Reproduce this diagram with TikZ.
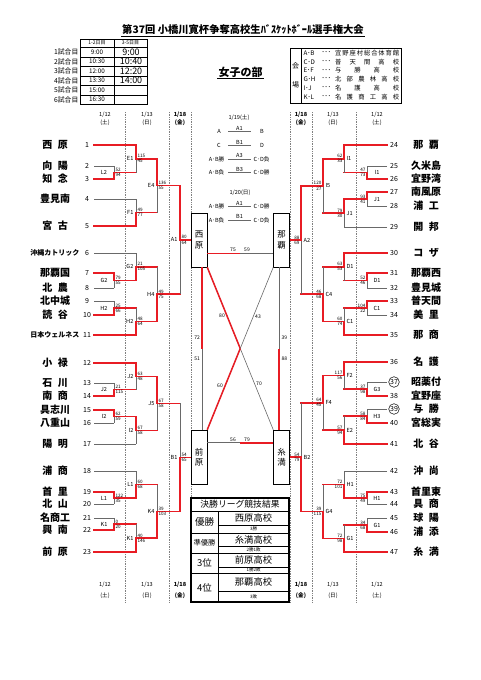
\documentclass[tikz,border=0pt]{standalone}
\usepackage{fontspec}
\setmainfont{Noto Sans CJK JP}
\usetikzlibrary{calc}
\definecolor{rd}{RGB}{232,28,36}
\definecolor{gr}{RGB}{105,105,105}
\newcommand\tg{\hspace{5.5pt}}
\newcommand\smallname{\fontsize{7}{8}\selectfont}
% bracket match: #1 name, #2 x of vertical, #3 y top, #4 y bottom, #5 winner (1 top / 2 bottom), #6 x out, #7 label, #8 score top, #9 score bottom
\newcommand\BMatch[9]{%
  \pgfmathsetmacro\bmm{(#3+#4)/2}%
  \ifnum#5=1\relax
    \draw[gl] (#2,\bmm) -- (#2,#4);
    \draw[rl] (#2,#3) -- (#2,\bmm) -- (#6,\bmm);
  \else
    \draw[gl] (#2,#3) -- (#2,\bmm);
    \draw[rl] (#2,#4) -- (#2,\bmm) -- (#6,\bmm);
  \fi
  \coordinate (#1) at (#2,\bmm);
  \pgfmathsetmacro\lxx{#2+\ldx}%
  \pgfmathsetmacro\sxx{#2+\sdx}%
  \node[lb,anchor=\lanc] at (\lxx,\bmm) {#7};
  \node[sc,anchor=\sanT] at (\sxx,\bmm-0.5) {#8};
  \node[sc,anchor=\sanB] at (\sxx,\bmm+0.5) {#9};
}
\newcommand\LTeam[5]{%
  \node[tname] (nL#1) at (55,#2) {#3};
  \node[tnum] (kL#1) at (87,#2) {#1};
  \coordinate (aL#1) at (94,#2);
  \draw[#5] (aL#1) -- (#4,#2);
}
\newcommand\RTeam[5]{%
  \node[tname] (nR#1) at (426,#2) {#3};
  \node[tnum] (kR#1) at (394,#2) {#1};
  \coordinate (aR#1) at (387,#2);
  \draw[#5] (aR#1) -- (#4,#2);
}
\newcommand\SRow[4]{%
  \node[ct,anchor=east] at (225,#1) {#2};
  \draw[gl,line width=0.5pt] (228,#1) -- (251,#1);
  \node[ct,anchor=south,inner sep=0.4pt] at (239.5,#1-0.6) {#3};
  \node[ct,anchor=west] at (253,#1) {#4};
}
\newcommand\VRow[3]{%
  \node[vt,anchor=west] at (303,#1) {#2};
  \node[vt,anchor=west] at (321,#1) {･･･};
  \node[vt,anchor=west,inner sep=0pt] at (335,#1) {\hbox to 64pt{#3}};
}
\begin{document}
\begin{tikzpicture}[x=1pt,y=-1pt,
  rl/.style={draw=rd,line width=1.5pt,line cap=rect},
  gl/.style={draw=gr,line width=0.6pt},
  dl/.style={draw=gray,line width=0.6pt,dash pattern=on 0.8pt off 0.9pt},
  tbl/.style={draw=black,line width=0.5pt},
  sc/.style={font=\fontsize{4.6}{5}\selectfont,inner sep=0.2pt},
  lb/.style={font=\fontsize{5.6}{6}\selectfont,inner sep=0.4pt},
  ct/.style={font=\fontsize{5.6}{6}\selectfont,inner sep=0.5pt},
  dt/.style={font=\fontsize{5.6}{6}\selectfont,inner sep=0.5pt},
  tname/.style={font=\fontsize{10}{12}\selectfont\bfseries,inner sep=0pt},
  tnum/.style={font=\fontsize{7}{8}\selectfont,inner sep=0pt},
  vt/.style={font=\fontsize{6.3}{7}\selectfont,inner sep=0.3pt},
  cbox/.style={draw=black,line width=0.5pt,fill=white,minimum width=16pt,minimum height=54pt,inner sep=0pt,align=center,font=\fontsize{8.5}{10.5}\selectfont},
  cs/.style={font=\fontsize{5}{5.5}\selectfont,inner sep=0.3pt}
]
\useasboundingbox (0,0) rectangle (481,680);
\fill[white] (0,0) rectangle (481,680);

% ---------- title ----------
\node[font=\fontsize{10.3}{12}\selectfont\bfseries,inner sep=1pt] (ttl) at (243,30) {第37回 小橋川寛杯争奪高校生ﾊﾞｽｹｯﾄﾎﾞｰﾙ選手権大会};
\draw[line width=0.6pt] (ttl.south west) -- (ttl.south east);
\node[font=\fontsize{11}{12}\selectfont\bfseries,inner sep=1pt] (sub) at (240.5,72) {女子の部};
\draw[line width=0.6pt] (sub.south west) -- (sub.south east);

% ---------- time table ----------
\draw[tbl] (80,39) rectangle (147,104.5);
\foreach \yy in {47,57,66.5,76,85.5,95} \draw[tbl] (80,\yy) -- (147,\yy);
\draw[tbl] (114,39) -- (114,104.5);
\node[font=\fontsize{5}{6}\selectfont] at (97,43) {1-2日目};
\node[font=\fontsize{5}{6}\selectfont] at (130.5,43) {3-5日目};
\foreach \i/\yy/\ta in {1/52/9:00,2/61.75/10:30,3/71.25/12:00,4/80.75/13:30,5/90.25/15:00,6/99.75/16:30}{
  \node[font=\fontsize{6.8}{7}\selectfont,anchor=east,inner sep=0.5pt] at (79,\yy) {\i 試合目};
  \node[font=\fontsize{6.3}{7}\selectfont] at (97,\yy) {\ta};
}
\foreach \yy/\tb in {52/9:00,61.75/10:40,71.25/12:20,80.75/14:00}
  \node[font=\fontsize{9}{10}\selectfont] at (131,\yy) {\tb};

% ---------- venue box ----------
\draw[tbl] (290,48) rectangle (401,103);
\draw[tbl] (301,48) -- (301,103);
\node[font=\fontsize{7}{8}\selectfont] at (295.5,66) {会};
\node[font=\fontsize{7}{8}\selectfont] at (295.5,85) {場};
\VRow{53}{A･B}{宜\hfill 野\hfill 座\hfill 村\hfill 総\hfill 合\hfill 体\hfill 育\hfill 館}
\VRow{61.8}{C･D}{普\hfill 天\hfill 間\hfill 高\hfill 校}
\VRow{70.6}{E･F}{与\hfill 勝\hfill 高\hfill 校}
\VRow{79.4}{G･H}{北\hfill 部\hfill 農\hfill 林\hfill 高\hfill 校}
\VRow{88.2}{I･J}{名\hfill 護\hfill 高\hfill 校}
\VRow{97}{K･L}{名\hfill 護\hfill 商\hfill 工\hfill 高\hfill 校}

% ---------- dotted column lines ----------
\foreach \xx in {125,169,191,290,312,356} \draw[dl] (\xx,112) -- (\xx,602);

% ---------- dates ----------
\foreach \xx/\dd/\ww in {105/1\slash 12/(土),147/1\slash 13/(日),333/1\slash 13/(日),377/1\slash 12/(土)}{
  \node[dt] at (\xx,115) {\dd}; \node[dt] at (\xx,122.5) {\ww};
  \node[dt] at (\xx,585) {\dd}; \node[dt] at (\xx,596) {\ww};
}
\foreach \xx in {180,301}{
  \node[dt,font=\fontsize{5.6}{6}\selectfont\bfseries] at (\xx,115) {1/18};
  \node[dt,font=\fontsize{5.6}{6}\selectfont\bfseries] at (\xx,122.5) {(金)};
  \node[dt,font=\fontsize{5.6}{6}\selectfont\bfseries] at (\xx,585) {1/18};
  \node[dt,font=\fontsize{5.6}{6}\selectfont\bfseries] at (\xx,596) {(金)};
}

% ---------- left teams ----------
\LTeam{1}{145}{西\tg 原}{136}{rl}
\LTeam{2}{166}{向\tg 陽}{114}{gl}
\LTeam{3}{179}{知\tg 念}{114}{rl}
\LTeam{4}{199}{豊見南}{136}{gl}
\LTeam{5}{226}{宮\tg 古}{136}{rl}
\LTeam{6}{253}{\smallname 沖縄カトリック}{136}{gl}
\LTeam{7}{273}{那覇国}{114}{rl}
\LTeam{8}{288}{北\tg 農}{114}{gl}
\LTeam{9}{301}{北中城}{114}{gl}
\LTeam{10}{315}{読\tg 谷}{114}{rl}
\LTeam{11}{335}{\smallname 日本ウェルネス}{136}{rl}
\LTeam{12}{363}{小\tg 禄}{136}{rl}
\LTeam{13}{383}{石\tg 川}{114}{gl}
\LTeam{14}{396}{南\tg 商}{114}{rl}
\LTeam{15}{410}{具志川}{114}{rl}
\LTeam{16}{423}{八重山}{114}{gl}
\LTeam{17}{444}{陽\tg 明}{136}{gl}
\LTeam{18}{471}{浦\tg 商}{136}{gl}
\LTeam{19}{492}{首\tg 里}{114}{rl}
\LTeam{20}{504}{北\tg 山}{114}{gl}
\LTeam{21}{518}{名商工}{114}{gl}
\LTeam{22}{530}{興\tg 南}{114}{rl}
\LTeam{23}{552}{前\tg 原}{136}{rl}

% ---------- right teams ----------
\RTeam{24}{145}{那\tg 覇}{344}{rl}
\RTeam{25}{166}{久米島}{367}{gl}
\RTeam{26}{179}{宜野湾}{367}{rl}
\RTeam{27}{192}{南風原}{367}{rl}
\RTeam{28}{206}{浦\tg 工}{367}{gl}
\RTeam{29}{227}{開\tg 邦}{344}{gl}
\RTeam{30}{253}{コ\tg ザ}{344}{rl}
\RTeam{31}{273}{那覇西}{367}{rl}
\RTeam{32}{288}{豊見城}{367}{gl}
\RTeam{33}{301}{普天間}{367}{rl}
\RTeam{34}{315}{美\tg 里}{367}{gl}
\RTeam{35}{335}{那\tg 商}{344}{rl}
\RTeam{36}{362}{名\tg 護}{344}{rl}
\RTeam{37}{382}{昭薬付}{367}{gl}
\RTeam{38}{396}{宜野座}{367}{rl}
\RTeam{39}{409}{与\tg 勝}{367}{gl}
\RTeam{40}{423}{宮総実}{367}{rl}
\RTeam{41}{444}{北\tg 谷}{344}{rl}
\RTeam{42}{471}{沖\tg 尚}{344}{gl}
\RTeam{43}{492}{首里東}{367}{rl}
\RTeam{44}{504}{具\tg 商}{367}{gl}
\RTeam{45}{518}{球\tg 陽}{367}{gl}
\RTeam{46}{532}{浦\tg 添}{367}{rl}
\RTeam{47}{552}{糸\tg 満}{344}{rl}
\draw[line width=0.5pt] (kR37) circle (5.3pt);
\draw[line width=0.5pt] (kR39) circle (5.3pt);

% ---------- left bracket ----------
\def\sdx{1.2}\def\sanT{south west}\def\sanB{north west}
\def\ldx{-10}\def\lanc{center}
\BMatch{L-L2}{114}{166}{179}{2}{136}{L2}{52}{94}
\BMatch{L-G2a}{114}{273}{288}{1}{136}{G2}{79}{55}
\BMatch{L-H2a}{114}{301}{315}{2}{136}{H2}{25}{66}
\BMatch{L-J2a}{114}{383}{396}{2}{136}{J2}{21}{115}
\BMatch{L-I2a}{114}{410}{423}{1}{136}{I2}{62}{59}
\BMatch{L-L1a}{114}{492}{504}{1}{136}{L1}{122}{35}
\BMatch{L-K1a}{114}{518}{530}{2}{136}{K1}{0}{20}
\def\ldx{-2}\def\lanc{east}
\BMatch{L-E1}{136}{145}{172.5}{1}{157}{E1}{115}{45}
\BMatch{L-F1}{136}{199}{226}{2}{157}{F1}{49}{77}
\BMatch{L-G2b}{136}{253}{280.5}{2}{157}{G2}{21}{105}
\BMatch{L-H2b}{136}{308}{335}{2}{157}{H2}{48}{64}
\BMatch{L-J2b}{136}{363}{389.5}{1}{157}{J2}{63}{48}
\BMatch{L-I2b}{136}{416.5}{444}{1}{157}{I2}{67}{58}
\BMatch{L-L1b}{136}{471}{498}{2}{157}{L1}{60}{68}
\BMatch{L-K1b}{136}{524}{552}{2}{157}{K1}{40}{146}
\BMatch{L-E4}{157}{158.75}{212.5}{1}{180}{E4}{136}{55}
\BMatch{L-H4}{157}{266.75}{321.5}{2}{180}{H4}{49}{75}
\BMatch{L-J5}{157}{376.25}{430.25}{1}{180}{J5}{67}{58}
\BMatch{L-K4}{157}{484.5}{538}{2}{180}{K4}{39}{103}
\BMatch{L-A1}{180}{185.625}{294.125}{1}{191}{A1}{80}{64}
\BMatch{L-B1}{180}{403.25}{511.25}{2}{191}{B1}{54}{65}

% ---------- right bracket ----------
\def\sdx{-1.2}\def\sanT{south east}\def\sanB{north east}
\def\ldx{10}\def\lanc{center}
\BMatch{R-I1a}{367}{166}{179}{2}{344}{I1}{47}{73}
\BMatch{R-J1a}{367}{192}{206}{1}{344}{J1}{93}{41}
\BMatch{R-D1a}{367}{273}{288}{1}{344}{D1}{52}{46}
\BMatch{R-C1a}{367}{301}{315}{1}{344}{C1}{104}{22}
\BMatch{R-G3}{367}{382}{396}{2}{344}{G3}{37}{98}
\BMatch{R-H3}{367}{409}{423}{2}{344}{H3}{58}{84}
\BMatch{R-H1a}{367}{492}{504}{1}{344}{H1}{75}{49}
\BMatch{R-G1a}{367}{518}{532}{2}{344}{G1}{34}{68}
\def\ldx{2}\def\lanc{west}
\BMatch{R-I1b}{344}{145}{172.5}{1}{323}{I1}{62}{33}
\BMatch{R-J1b}{344}{199}{227}{1}{323}{J1}{79}{30}
\BMatch{R-D1b}{344}{253}{280.5}{1}{323}{D1}{63}{53}
\BMatch{R-C1b}{344}{308}{335}{2}{323}{C1}{60}{74}
\BMatch{R-F2}{344}{362}{389}{1}{323}{F2}{117}{56}
\BMatch{R-E2}{344}{416}{444}{2}{323}{E2}{57}{94}
\BMatch{R-H1b}{344}{471}{498}{2}{323}{H1}{72}{101}
\BMatch{R-G1b}{344}{525}{552}{2}{323}{G1}{72}{98}
\BMatch{R-I5}{323}{158.75}{213}{1}{301}{I5}{120}{27}
\BMatch{R-C4}{323}{266.75}{321.5}{2}{301}{C4}{46}{68}
\BMatch{R-F4}{323}{375.5}{430}{1}{301}{F4}{64}{45}
\BMatch{R-G4}{323}{484.5}{538.5}{2}{301}{G4}{39}{115}
\BMatch{R-A2}{301}{185.875}{294.125}{1}{290}{A2}{88}{69}
\BMatch{R-B2}{301}{402.75}{511.5}{2}{290}{B2}{54}{79}

% ---------- centre schedule ----------
\node[ct] at (239,118) {1/19(土)};
\node[ct] at (219,131.5) {A};
\draw[gl,line width=0.5pt] (228,131.5) -- (251,131.5);
\node[ct,anchor=south,inner sep=0.4pt] at (239.5,130.9) {A1};
\node[ct] at (262,131.5) {B};
\node[ct] at (219,145.3) {C};
\draw[gl,line width=0.5pt] (228,145.3) -- (251,145.3);
\node[ct,anchor=south,inner sep=0.4pt] at (239.5,144.7) {B1};
\node[ct] at (262,145.3) {D};
\SRow{159}{A･B勝}{A3}{C･D負}
\SRow{172.3}{A･B負}{B3}{C･D勝}
\node[ct] at (240,192.3) {1/20(日)};
\SRow{206.7}{A･B勝}{A1}{C･D勝}
\SRow{220}{A･B負}{B1}{C･D負}

% ---------- final league boxes ----------
\node[cbox] (bNi) at (199,240) {西\\原};
\node[cbox] (bNa) at (281.5,240) {那\\覇};
\node[cbox] (bMa) at (199,457) {前\\原};
\node[cbox] (bIt) at (281.5,457) {糸\\満};

% 西原 - 那覇
\path ([yshift=14pt]bNi.south east) coordinate (h1a) ([yshift=14pt]bNa.south west) coordinate (h1b);
\draw[gl] (h1a) -- (h1b);
\draw[rl,line cap=butt] (h1a) -- ($(h1a)!0.5!(h1b)$);
\node[cs,anchor=south] at (233,252) {75};
\node[cs,anchor=south] at (247,252) {59};
% 前原 - 糸満
\path ([yshift=-13pt]bMa.north east) coordinate (h2a) ([yshift=-13pt]bIt.north west) coordinate (h2b);
\draw[gl] (h2a) -- (h2b);
\draw[rl,line cap=butt] ($(h2a)!0.5!(h2b)$) -- (h2b);
\node[cs,anchor=south] at (233,442) {56};
\node[cs,anchor=south] at (247,442) {79};
% 西原 - 前原
\path ([xshift=3pt]bNi.south) coordinate (v1a) ([xshift=3pt]bMa.north) coordinate (v1b);
\draw[gl] (v1a) -- (v1b);
\draw[rl,line cap=butt] (v1a) -- ($(v1a)!0.5!(v1b)$);
\node[cs,anchor=east] at (200.5,338) {72};
\node[cs,anchor=east] at (200.5,359) {51};
% 那覇 - 糸満
\path ([xshift=-2.5pt]bNa.south) coordinate (v2a) ([xshift=-2.5pt]bIt.north) coordinate (v2b);
\draw[gl] (v2a) -- (v2b);
\draw[rl,line cap=butt] ($(v2a)!0.5!(v2b)$) -- (v2b);
\node[cs,anchor=west] at (281,338) {39};
\node[cs,anchor=west] at (281,359) {88};
% 西原 - 糸満
\draw[gl] (bNi.south east) -- (bIt.north west);
\draw[rl,line cap=butt] (bNi.south east) -- ($(bNi.south east)!0.5!(bIt.north west)$);
\node[cs] at (222,316) {80};
\node[cs] at (259,384) {70};
% 那覇 - 前原
\draw[gl] (bNa.south west) -- (bMa.north east);
\draw[rl,line cap=butt] ($(bNa.south west)!0.5!(bMa.north east)$) -- (bMa.north east);
\node[cs] at (258,317) {43};
\node[cs] at (220,386) {60};

% ---------- results table ----------
\fill[white] (191,498) rectangle (289,602);
\draw[line width=0.5pt] (191,511) -- (289,511);
\foreach \yy in {533,553,573} \draw[line width=0.5pt] (191,\yy) -- (289,\yy);
\draw[line width=0.5pt] (218,511) -- (218,602);
\foreach \yy in {525,546,567,591} \draw[line width=0.4pt] (218,\yy) -- (289,\yy);
\draw[line width=1.3pt] (191,498) rectangle (289,602);
\node[font=\fontsize{8.8}{10}\selectfont] at (240,504.5) {決勝リーグ競技結果};
\node[font=\fontsize{9.5}{10}\selectfont] at (204.5,522) {優勝};
\node[font=\fontsize{7.3}{8}\selectfont] at (204.5,543) {準優勝};
\node[font=\fontsize{9.5}{10}\selectfont] at (204.5,563) {3位};
\node[font=\fontsize{9.5}{10}\selectfont] at (204.5,587.5) {4位};
\node[font=\fontsize{9.3}{10}\selectfont] at (253.5,518) {西原高校};
\node[font=\fontsize{4.5}{5}\selectfont] at (253.5,529) {3勝};
\node[font=\fontsize{9.3}{10}\selectfont] at (253.5,539.5) {糸満高校};
\node[font=\fontsize{4.5}{5}\selectfont] at (253.5,549.5) {2勝1敗};
\node[font=\fontsize{9.3}{10}\selectfont] at (253.5,560) {前原高校};
\node[font=\fontsize{4.5}{5}\selectfont] at (253.5,570) {1勝2敗};
\node[font=\fontsize{9.3}{10}\selectfont] at (253.5,582) {那覇高校};
\node[font=\fontsize{4.5}{5}\selectfont] at (253.5,596.5) {3敗};
\end{tikzpicture}
\end{document}
